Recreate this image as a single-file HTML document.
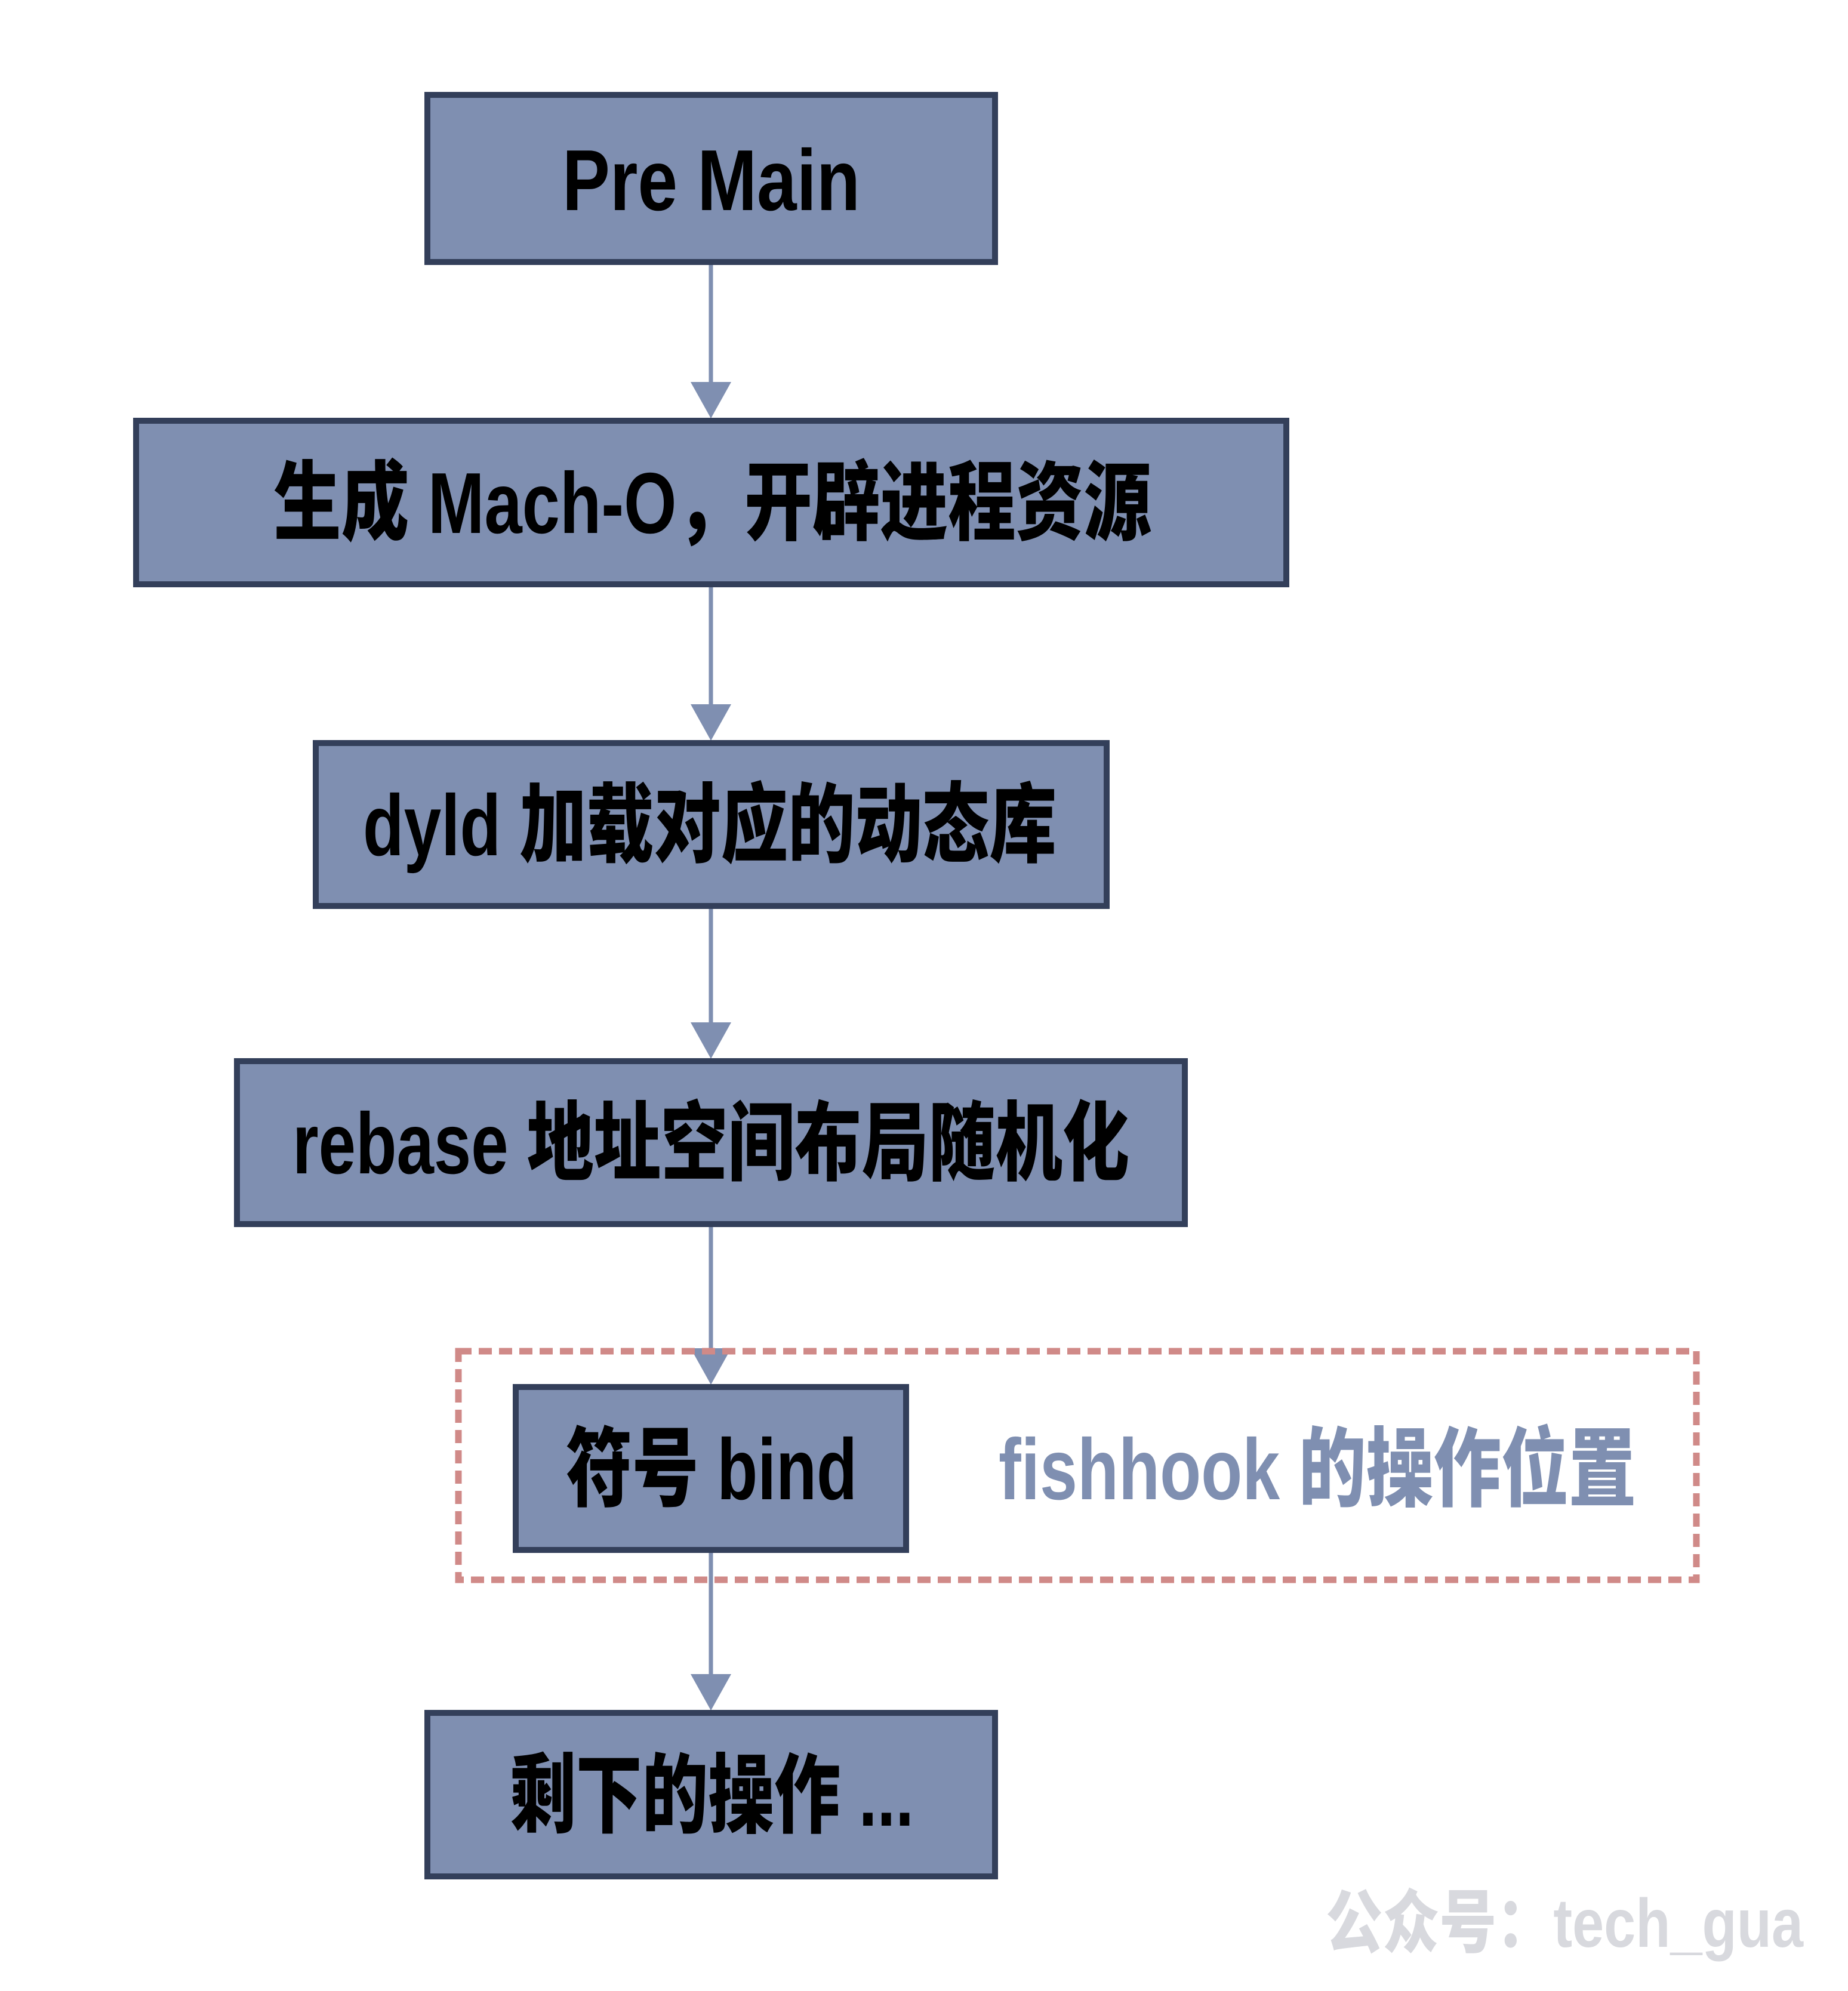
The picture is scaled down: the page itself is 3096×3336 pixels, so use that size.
<!DOCTYPE html>
<html><head><meta charset="utf-8"><style>
html,body{margin:0;padding:0;background:#fff;}
svg{display:block}
text{font-family:"Liberation Sans","Noto Sans CJK SC",sans-serif;font-weight:900;}
</style></head><body>
<svg width="3096" height="3336" viewBox="0 0 3096 3336" xmlns="http://www.w3.org/2000/svg">
<g stroke="#7f8fb1" stroke-width="7" fill="none">
<line x1="1191" y1="443" x2="1191" y2="650"/>
<line x1="1191" y1="983" x2="1191" y2="1190"/>
<line x1="1191" y1="1522" x2="1191" y2="1722"/>
<line x1="1191" y1="2055" x2="1191" y2="2268"/>
<line x1="1191" y1="2601" x2="1191" y2="2814"/>
</g>
<g fill="#7f8fb1">
<polygon points="1157,640 1225,640 1191,701"/>
<polygon points="1157,1180 1225,1180 1191,1241"/>
<polygon points="1157,1713 1225,1713 1191,1774"/>
<polygon points="1157,2259 1225,2259 1191,2320"/>
<polygon points="1157,2805 1225,2805 1191,2866"/>
</g>
<rect x="768" y="2264" width="2074" height="383" fill="none" stroke="#d08a88" stroke-width="11" stroke-dasharray="22,12"/>
<g fill="#7f8fb1" stroke="#333f5a" stroke-width="10">
<rect x="716" y="159" width="951" height="280"/>
<rect x="228" y="705" width="1927" height="274"/>
<rect x="529" y="1245" width="1325" height="273"/>
<rect x="397" y="1778" width="1588" height="273"/>
<rect x="864" y="2324" width="654" height="273"/>
<rect x="716" y="2870" width="951" height="274"/>
</g>
<g fill="#000" font-size="145">
<text x="942" y="352" textLength="499" lengthAdjust="spacingAndGlyphs">Pre Main</text>
<text x="458" y="893" textLength="1471" lengthAdjust="spacingAndGlyphs">生成 Mach-O，开辟进程资源</text>
<text x="608" y="1433" textLength="1162" lengthAdjust="spacingAndGlyphs">dyld 加载对应的动态库</text>
<text x="490" y="1966" textLength="1402" lengthAdjust="spacingAndGlyphs">rebase 地址空间布局随机化</text>
<text x="948" y="2512" textLength="488" lengthAdjust="spacingAndGlyphs">符号 bind</text>
<text x="854" y="3059" textLength="677" lengthAdjust="spacingAndGlyphs">剩下的操作 ...</text>
</g>
<text x="1673" y="2512" fill="#7f8fb1" font-size="145" textLength="1068" lengthAdjust="spacingAndGlyphs">fishhook 的操作位置</text>
<text x="2221" y="3262" fill="#d8d9de" font-size="115" textLength="800" lengthAdjust="spacingAndGlyphs">公众号：tech_gua</text>
</svg>
</body></html>
